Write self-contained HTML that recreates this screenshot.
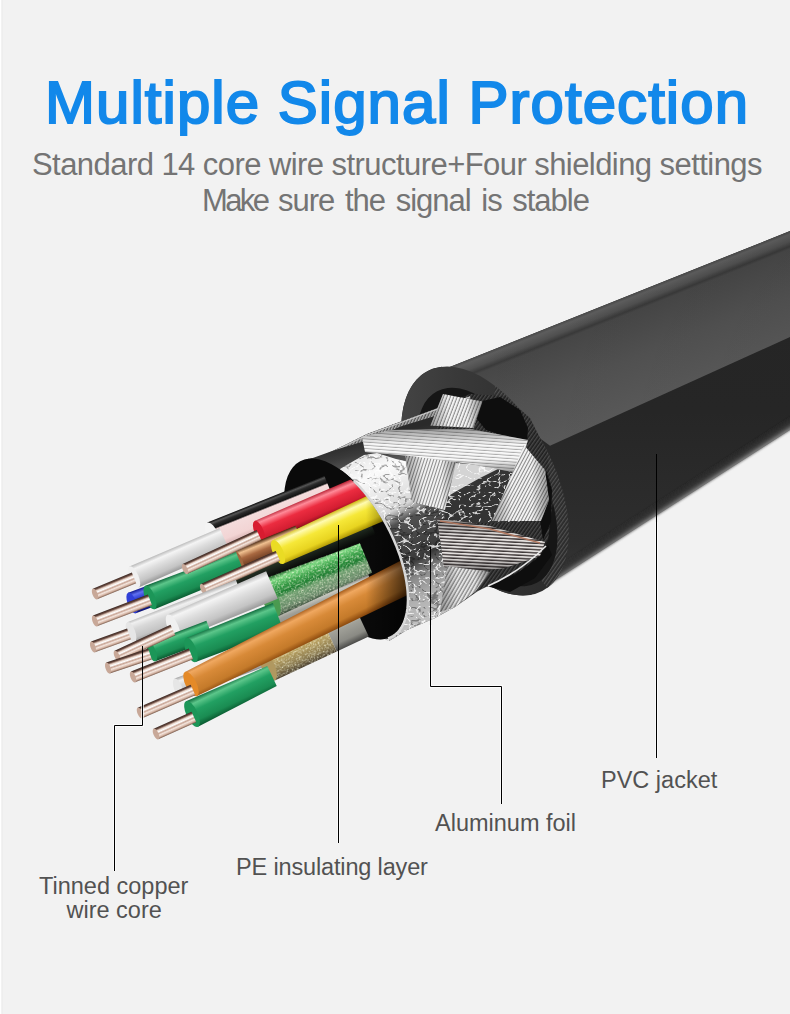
<!DOCTYPE html>
<html><head><meta charset="utf-8">
<style>
html,body{margin:0;padding:0;background:#f2f2f2;}
body{width:790px;height:1014px;position:relative;overflow:hidden;font-family:"Liberation Sans",sans-serif;}
.t{position:absolute;white-space:nowrap;line-height:1;}
#title{left:45px;top:73px;font-size:60px;color:#1288ea;-webkit-text-stroke:2px #1288ea;letter-spacing:1.04px;}
#sub1{left:32px;top:149px;font-size:31px;color:#747474;letter-spacing:-0.56px;}
#sub2{left:202px;top:185px;font-size:31px;color:#747474;letter-spacing:-1.0px;word-spacing:3px;}
.lab{font-size:23.5px;color:#525252;}
svg{position:absolute;left:0;top:0;}
</style></head><body>
<svg width="790" height="1014" viewBox="0 0 790 1014"><defs><filter id="crumple" x="0" y="0" width="100%" height="100%"><feTurbulence type="turbulence" baseFrequency="0.1 0.14" numOctaves="2" seed="5"/><feColorMatrix type="matrix" values="0 0 0 0 1  0 0 0 0 1  0 0 0 0 1  0 0 0 -10 1.5"/><feComposite in2="SourceGraphic" operator="in"/></filter><filter id="crumpled" x="0" y="0" width="100%" height="100%"><feTurbulence type="turbulence" baseFrequency="0.08 0.12" numOctaves="2" seed="11"/><feColorMatrix type="matrix" values="0 0 0 0 0  0 0 0 0 0  0 0 0 0 0  0 0 0 -10 1.4"/><feComposite in2="SourceGraphic" operator="in"/></filter><filter id="speck" x="0" y="0" width="100%" height="100%"><feTurbulence type="fractalNoise" baseFrequency="0.6" numOctaves="2" seed="7"/><feColorMatrix type="matrix" values="0 0 0 0 1  0 0 0 0 1  0 0 0 0 0.8  0 0 0 -3 1.6"/><feComposite in2="SourceGraphic" operator="in"/></filter><linearGradient id="g_red" x1="0" y1="0" x2="0" y2="1"><stop offset="0" stop-color="#b0182a"/><stop offset="0.18" stop-color="#ff8a98"/><stop offset="0.42" stop-color="#ec2c40"/><stop offset="0.78" stop-color="#d41e32"/><stop offset="1" stop-color="#8a0c1c"/></linearGradient><linearGradient id="g_yellow" x1="0" y1="0" x2="0" y2="1"><stop offset="0" stop-color="#c8b000"/><stop offset="0.18" stop-color="#fffbb0"/><stop offset="0.42" stop-color="#f6e838"/><stop offset="0.78" stop-color="#e8d420"/><stop offset="1" stop-color="#a89000"/></linearGradient><linearGradient id="g_green" x1="0" y1="0" x2="0" y2="1"><stop offset="0" stop-color="#0e6a3c"/><stop offset="0.18" stop-color="#5cc68a"/><stop offset="0.42" stop-color="#22a062"/><stop offset="0.78" stop-color="#1a8c52"/><stop offset="1" stop-color="#0a5a30"/></linearGradient><linearGradient id="g_white" x1="0" y1="0" x2="0" y2="1"><stop offset="0" stop-color="#c8c8c8"/><stop offset="0.18" stop-color="#ffffff"/><stop offset="0.42" stop-color="#f0f0f0"/><stop offset="0.78" stop-color="#dcdcdc"/><stop offset="1" stop-color="#a8a8a8"/></linearGradient><linearGradient id="g_white2" x1="0" y1="0" x2="0" y2="1"><stop offset="0" stop-color="#b8b8b8"/><stop offset="0.18" stop-color="#f4f4f4"/><stop offset="0.42" stop-color="#dedede"/><stop offset="0.78" stop-color="#c4c4c4"/><stop offset="1" stop-color="#989898"/></linearGradient><linearGradient id="g_gray" x1="0" y1="0" x2="0" y2="1"><stop offset="0" stop-color="#a8a8a8"/><stop offset="0.18" stop-color="#f0f0f0"/><stop offset="0.42" stop-color="#d8d8d8"/><stop offset="0.78" stop-color="#c4c4c4"/><stop offset="1" stop-color="#909090"/></linearGradient><linearGradient id="g_orange" x1="0" y1="0" x2="0" y2="1"><stop offset="0" stop-color="#9a5010"/><stop offset="0.18" stop-color="#f0a860"/><stop offset="0.42" stop-color="#d88a38"/><stop offset="0.78" stop-color="#c47a2a"/><stop offset="1" stop-color="#804008"/></linearGradient><linearGradient id="g_blue" x1="0" y1="0" x2="0" y2="1"><stop offset="0" stop-color="#101890"/><stop offset="0.18" stop-color="#6070f0"/><stop offset="0.42" stop-color="#2838d0"/><stop offset="0.78" stop-color="#2030b8"/><stop offset="1" stop-color="#0c1270"/></linearGradient><linearGradient id="g_cfoil" x1="0" y1="0" x2="0" y2="1"><stop offset="0" stop-color="#4a2810"/><stop offset="0.18" stop-color="#f0c090"/><stop offset="0.42" stop-color="#a86840"/><stop offset="0.78" stop-color="#6a3a20"/><stop offset="1" stop-color="#2a1808"/></linearGradient><linearGradient id="g_gold" x1="0" y1="0" x2="0" y2="1"><stop offset="0" stop-color="#6a5a30"/><stop offset="0.18" stop-color="#e8d898"/><stop offset="0.42" stop-color="#b8a060"/><stop offset="0.78" stop-color="#8a7a50"/><stop offset="1" stop-color="#4a4030"/></linearGradient><linearGradient id="g_gray2" x1="0" y1="0" x2="0" y2="1"><stop offset="0" stop-color="#5a5a58"/><stop offset="0.18" stop-color="#c8c8c0"/><stop offset="0.42" stop-color="#a0a098"/><stop offset="0.78" stop-color="#8a8a84"/><stop offset="1" stop-color="#4a4a48"/></linearGradient><linearGradient id="g_bpink" x1="0" y1="0" x2="0" y2="1"><stop offset="0" stop-color="#0a0a0a"/><stop offset="0.07" stop-color="#555555"/><stop offset="0.14" stop-color="#2a2a2a"/><stop offset="0.25" stop-color="#141414"/><stop offset="0.3" stop-color="#f4dcdc"/><stop offset="0.7" stop-color="#f2d4d4"/><stop offset="1" stop-color="#c8a0a0"/></linearGradient><linearGradient id="g_gtin" x1="0" y1="0" x2="0" y2="1"><stop offset="0" stop-color="#1e5a26"/><stop offset="0.12" stop-color="#7ad880"/><stop offset="0.3" stop-color="#3aa048"/><stop offset="0.5" stop-color="#1e7a30"/><stop offset="0.6" stop-color="#70a070"/><stop offset="0.85" stop-color="#6a8a6a"/><stop offset="1" stop-color="#3a4a3a"/></linearGradient><linearGradient id="g_dark" x1="0" y1="0" x2="0" y2="1"><stop offset="0" stop-color="#0a0a0a"/><stop offset="0.3" stop-color="#2a3a2a"/><stop offset="0.6" stop-color="#1a221a"/><stop offset="1" stop-color="#050505"/></linearGradient><linearGradient id="g_tip" x1="0" y1="0" x2="0" y2="1"><stop offset="0" stop-color="#3a2822"/><stop offset="0.14" stop-color="#6a4a40"/><stop offset="0.28" stop-color="#e8d4c8"/><stop offset="0.42" stop-color="#ffffff"/><stop offset="0.56" stop-color="#c8a494"/><stop offset="0.7" stop-color="#f4e6de"/><stop offset="0.86" stop-color="#d4b4a4"/><stop offset="1" stop-color="#7a5a4a"/></linearGradient><linearGradient id="jk_low" x1="0" y1="0" x2="0" y2="1"><stop offset="0" stop-color="#242424"/><stop offset="0.5" stop-color="#262626"/><stop offset="0.85" stop-color="#2e2e2e"/><stop offset="1" stop-color="#383838"/></linearGradient><linearGradient id="jk_up" x1="0" y1="0" x2="0" y2="1"><stop offset="0" stop-color="#4a4a4a"/><stop offset="1" stop-color="#575757"/></linearGradient><linearGradient id="jk_up2" gradientUnits="userSpaceOnUse" x1="600" y1="307" x2="644.5" y2="418.4"><stop offset="0" stop-color="#4a4a4a"/><stop offset="0.025" stop-color="#5e5e5e"/><stop offset="0.08" stop-color="#505050"/><stop offset="0.118" stop-color="#3a3a3a"/><stop offset="0.14" stop-color="#474747"/><stop offset="0.5" stop-color="#525252"/><stop offset="0.9" stop-color="#5a5a5a"/><stop offset="1" stop-color="#5a5a5a"/></linearGradient><linearGradient id="jk_botedge" gradientUnits="userSpaceOnUse" x1="693.5" y1="477.5" x2="700.5" y2="488.4"><stop offset="0" stop-color="#262626" stop-opacity="0"/><stop offset="0.6" stop-color="#3a3a3a" stop-opacity="1"/><stop offset="0.85" stop-color="#6a6a6a"/><stop offset="1" stop-color="#b0b0b0"/></linearGradient><filter id="bl1" x="-5%" y="-20%" width="110%" height="140%"><feGaussianBlur stdDeviation="0.8"/></filter><linearGradient id="jk_dark_r" gradientUnits="userSpaceOnUse" x1="450" y1="0" x2="790" y2="0"><stop offset="0" stop-color="#000" stop-opacity="0"/><stop offset="1" stop-color="#000" stop-opacity="0.05"/></linearGradient><linearGradient id="jk_face" x1="0" y1="0" x2="1" y2="1"><stop offset="0" stop-color="#4a4a4a"/><stop offset="0.4" stop-color="#383838"/><stop offset="1" stop-color="#262626"/></linearGradient><pattern id="st_ring" width="3" height="3" patternUnits="userSpaceOnUse" patternTransform="rotate(-55)"><rect width="3" height="3" fill="#2a2a2a"/><rect width="3" height="1.2" fill="#5a5a5a"/></pattern><pattern id="st_bb" width="3" height="3" patternUnits="userSpaceOnUse" patternTransform="rotate(-55)"><rect width="3" height="3" fill="#1e1e1e"/><rect width="3" height="1.4" fill="#484848"/></pattern><pattern id="st_edge" width="2.6" height="2.6" patternUnits="userSpaceOnUse" patternTransform="rotate(-65)"><rect width="2.6" height="2.6" fill="#505050"/><rect width="2.6" height="1.4" fill="#b0b0b0"/></pattern><pattern id="st_v" width="3.2" height="3.2" patternUnits="userSpaceOnUse" patternTransform="rotate(-69)"><rect width="3.2" height="3.2" fill="#8a8a8a"/><rect width="3.2" height="2.1" fill="#f4f4f4"/></pattern><pattern id="st_h" width="3.2" height="3.2" patternUnits="userSpaceOnUse" patternTransform="rotate(4)"><rect width="3.2" height="3.2" fill="#acacac"/><rect width="3.2" height="2.2" fill="#f8f8f8"/></pattern><pattern id="st_d" width="3.0" height="3.0" patternUnits="userSpaceOnUse" patternTransform="rotate(-72)"><rect width="3.0" height="3.0" fill="#8c8c8c"/><rect width="3.0" height="2.0" fill="#f2f2f2"/></pattern><pattern id="st_r" width="3.0" height="3.0" patternUnits="userSpaceOnUse" patternTransform="rotate(-62)"><rect width="3.0" height="3.0" fill="#888888"/><rect width="3.0" height="2.0" fill="#f2f2f2"/></pattern><pattern id="st_b" width="3.2" height="3.2" patternUnits="userSpaceOnUse" patternTransform="rotate(3)"><rect width="3.2" height="3.2" fill="#3e3838"/><rect width="3.2" height="1.8" fill="#e4e0de"/></pattern><pattern id="st_bl" width="3.2" height="3.2" patternUnits="userSpaceOnUse" patternTransform="rotate(-60)"><rect width="3.2" height="3.2" fill="#8a8a8a"/><rect width="3.2" height="1.9" fill="#e4e4e4"/></pattern><linearGradient id="foilg" x1="330" y1="440" x2="422" y2="620" gradientUnits="userSpaceOnUse"><stop offset="0" stop-color="#1a1a1a"/><stop offset="0.08" stop-color="#222222"/><stop offset="0.14" stop-color="#e8e8e8"/><stop offset="0.25" stop-color="#fafafa"/><stop offset="0.45" stop-color="#d8d8d8"/><stop offset="0.52" stop-color="#505050"/><stop offset="0.72" stop-color="#3a3a3a"/><stop offset="0.8" stop-color="#8a8a8a"/><stop offset="0.9" stop-color="#b0b0b0"/><stop offset="1" stop-color="#c0c0c0"/></linearGradient><linearGradient id="fdark" gradientUnits="userSpaceOnUse" x1="360" y1="440" x2="366" y2="466"><stop offset="0" stop-color="#2a2a2a"/><stop offset="0.5" stop-color="#3a3a3a"/><stop offset="1" stop-color="#555"/></linearGradient><linearGradient id="shV" x1="0" y1="0" x2="0" y2="1"><stop offset="0" stop-color="#000" stop-opacity="0.35"/><stop offset="0.35" stop-color="#000" stop-opacity="0"/><stop offset="0.7" stop-color="#000" stop-opacity="0"/><stop offset="1" stop-color="#000" stop-opacity="0.4"/></linearGradient><linearGradient id="shH" x1="0" y1="0" x2="1" y2="0"><stop offset="0" stop-color="#000" stop-opacity="0.35"/><stop offset="0.35" stop-color="#000" stop-opacity="0"/><stop offset="0.7" stop-color="#000" stop-opacity="0"/><stop offset="1" stop-color="#000" stop-opacity="0.4"/></linearGradient><clipPath id="wclip"><polygon points="22.2,-70.5 669.8,1168.5 -200.0,1168.5 -200.0,-70.5"/><ellipse cx="346" cy="549" rx="46" ry="98" transform="rotate(-27.6 346 549)"/></clipPath><linearGradient id="tubeshade" x1="0" y1="0" x2="1" y2="0"><stop offset="0" stop-color="#000"/><stop offset="0.55" stop-color="#000"/><stop offset="1" stop-color="#000"/></linearGradient><linearGradient id="tubefade" x1="300" y1="0" x2="410" y2="0" gradientUnits="userSpaceOnUse"><stop offset="0" stop-color="#000" stop-opacity="0"/><stop offset="0.6" stop-color="#000" stop-opacity="0"/><stop offset="1" stop-color="#000" stop-opacity="0.7"/></linearGradient><clipPath id="fclip"><ellipse cx="346" cy="549" rx="47" ry="99" transform="rotate(-27.6 346 549)"/></clipPath></defs><polygon points="800.0,227.0 446.0,368.6 441.7,366.8 437.9,367.4 434.3,368.3 430.7,369.6 427.4,371.2 424.2,373.1 421.2,375.3 418.3,377.9 415.7,380.7 413.3,383.8 411.0,387.2 409.0,390.9 407.2,394.8 405.7,399.0 404.3,403.4 403.2,408.0 402.4,412.9 401.7,418.0 401.3,423.2 401.2,428.6 401.3,434.1 401.6,439.8 402.2,445.7 403.0,451.6 404.1,457.6 405.4,463.6 406.9,469.7 408.7,475.9 410.6,482.1 412.8,488.2 415.2,494.4 417.8,500.5 420.6,506.5 423.6,512.5 426.8,518.3 430.1,524.1 433.6,529.8 437.2,535.3 441.0,540.6 444.9,545.8 448.9,550.8 453.0,555.6 457.2,560.1 461.5,564.5 465.9,568.6 470.3,572.4 474.8,576.0 479.3,579.3 483.8,582.3 488.3,585.0 492.8,587.5 497.3,589.6 501.7,591.4 506.1,592.9 510.4,594.0 514.7,594.8 518.9,595.3 522.9,595.5 526.9,595.3 530.8,594.9 560.0,577.2 800.0,423.6" fill="url(#jk_low)"/><polygon points="800.0,227.0 446.0,368.6 550.0,445.7 800.0,332.5" fill="url(#jk_up2)"/><polygon points="545.0,572.8 800.0,409.6 800.0,424.6 545.0,587.8" fill="url(#jk_botedge)" filter="url(#bl1)"/><polygon points="800.0,227.0 446.0,368.6 550.0,445.7 800.0,332.5" fill="url(#jk_dark_r)"/><ellipse cx="485" cy="481" rx="69" ry="124" transform="rotate(-27.5 485 481)" fill="url(#jk_face)"/><polygon points="495.1,385.9 501.3,391.0 507.4,396.5 513.4,402.6 519.3,409.1 524.9,416.0 530.4,423.2 535.5,430.8 540.4,438.7 545.0,446.8 549.2,455.1 553.1,463.6 556.6,472.2 559.6,480.8 562.3,489.4 564.5,497.9 566.3,506.4 567.6,514.7 568.4,522.8 568.8,530.7 568.7,538.3 568.1,545.6 567.1,552.6 565.5,559.1 563.6,565.1 561.2,570.7 558.3,575.8 555.1,580.4 551.4,584.4 547.4,587.8 541.0,580.2 544.2,577.4 547.2,574.0 549.7,570.2 552.0,565.9 553.8,561.1 555.3,556.0 556.4,550.4 557.1,544.5 557.4,538.3 557.3,531.7 556.8,524.9 555.9,517.9 554.6,510.8 552.9,503.5 550.9,496.1 548.5,488.6 545.8,481.1 542.7,473.7 539.3,466.4 535.6,459.1 531.6,452.1 527.4,445.2 523.0,438.5 518.3,432.2 513.5,426.1 508.5,420.4 503.4,415.0 498.3,410.1 493.0,405.6" fill="url(#st_ring)" opacity="0.8"/><ellipse cx="487" cy="487" rx="56" ry="108" transform="rotate(-27.5 487 487)" fill="#161616"/><polygon points="320.0,457.0 345.0,445.0 367.0,434.0 405.0,420.0 435.0,409.0 470.0,394.0 505.0,396.0 530.0,418.0 547.0,452.0 553.0,500.0 548.0,540.0 532.0,566.0 500.0,580.0 478.0,591.0 455.0,607.0 435.0,618.0 407.0,630.0 389.0,641.0 360.0,600.0" fill="url(#st_bb)"/><polygon points="478.0,402.0 500.0,397.0 520.0,410.0 528.0,428.0 527.0,442.0 505.0,436.0 486.0,430.0 476.0,418.0" fill="#0e0e0e"/><polygon points="546.0,470.0 552.0,490.0 551.0,522.0 543.0,540.0 540.0,520.0 546.0,500.0" fill="#0e0e0e"/><polygon points="486.0,586.0 515.0,575.0 540.0,556.0 548.0,545.0 552.0,555.0 535.0,578.0 510.0,592.0" fill="#0e0e0e"/><polygon points="320.0,457.0 345.0,445.0 367.0,434.0 405.0,420.0 435.0,409.0 470.0,396.0 472.0,403.0 437.0,416.0 405.0,427.0 368.0,441.0 347.0,452.0 324.0,463.0" fill="url(#st_edge)"/><polyline points="321,457 345,446 367,435 405,421 435,410 470,397" fill="none" stroke="#c8c8c8" stroke-width="1.2"/><polygon points="440.0,462.0 514.0,466.0 520.0,522.0 440.0,524.0" fill="#343434"/><polygon points="440.0,462.0 470.0,464.0 500.0,468.0 480.0,478.0 455.0,492.0 442.0,500.0" fill="#d4d4d4"/><polygon points="440.0,462.0 514.0,466.0 520.0,522.0 440.0,524.0" fill="#000" filter="url(#crumple)" opacity="0.8"/><polygon points="300.0,462.0 320.0,457.0 344.0,452.0 369.0,444.0 404.0,430.0 432.0,420.0 440.0,460.0 445.0,520.0 450.0,565.0 455.0,607.0 435.0,618.0 407.0,630.0 389.0,641.0 384.0,639.0 383.9,639.2 387.8,638.4 391.3,637.0 394.6,635.1 397.5,632.6 400.1,629.5 402.4,626.0 404.2,621.9 405.8,617.4 406.9,612.4 407.6,607.0 407.9,601.2 407.9,595.1 407.4,588.7 406.5,582.1 405.3,575.2 403.6,568.1 401.6,561.0 399.2,553.7 396.5,546.4 393.4,539.2 390.1,532.0 386.4,524.9 382.5,517.9 378.3,511.2 374.0,504.7 369.5,498.5 364.8,492.7 359.9,487.2 355.0,482.1 350.1,477.4 345.1,473.2 340.1,469.5 335.2,466.3 330.3,463.6 325.5,461.5 320.9,460.0 316.4,459.0 312.1,458.6 308.1,458.8" fill="url(#foilg)"/><polygon points="300.0,462.0 320.0,457.0 344.0,452.0 369.0,444.0 404.0,430.0 432.0,420.0 440.0,460.0 445.0,520.0 450.0,565.0 455.0,607.0 435.0,618.0 407.0,630.0 389.0,641.0 384.0,639.0 383.9,639.2 387.8,638.4 391.3,637.0 394.6,635.1 397.5,632.6 400.1,629.5 402.4,626.0 404.2,621.9 405.8,617.4 406.9,612.4 407.6,607.0 407.9,601.2 407.9,595.1 407.4,588.7 406.5,582.1 405.3,575.2 403.6,568.1 401.6,561.0 399.2,553.7 396.5,546.4 393.4,539.2 390.1,532.0 386.4,524.9 382.5,517.9 378.3,511.2 374.0,504.7 369.5,498.5 364.8,492.7 359.9,487.2 355.0,482.1 350.1,477.4 345.1,473.2 340.1,469.5 335.2,466.3 330.3,463.6 325.5,461.5 320.9,460.0 316.4,459.0 312.1,458.6 308.1,458.8" fill="#000" filter="url(#crumpled)" opacity="0.35"/><polygon points="300.0,462.0 320.0,457.0 344.0,452.0 369.0,444.0 404.0,430.0 432.0,420.0 440.0,460.0 445.0,520.0 450.0,565.0 455.0,607.0 435.0,618.0 407.0,630.0 389.0,641.0 384.0,639.0 383.9,639.2 387.8,638.4 391.3,637.0 394.6,635.1 397.5,632.6 400.1,629.5 402.4,626.0 404.2,621.9 405.8,617.4 406.9,612.4 407.6,607.0 407.9,601.2 407.9,595.1 407.4,588.7 406.5,582.1 405.3,575.2 403.6,568.1 401.6,561.0 399.2,553.7 396.5,546.4 393.4,539.2 390.1,532.0 386.4,524.9 382.5,517.9 378.3,511.2 374.0,504.7 369.5,498.5 364.8,492.7 359.9,487.2 355.0,482.1 350.1,477.4 345.1,473.2 340.1,469.5 335.2,466.3 330.3,463.6 325.5,461.5 320.9,460.0 316.4,459.0 312.1,458.6 308.1,458.8" fill="#000" filter="url(#crumple)" opacity="0.8"/><polygon points="296.0,466.0 310.0,459.0 335.0,450.0 365.0,441.0 402.0,426.0 435.0,416.0 440.0,440.0 410.0,462.0 396.0,459.0 377.0,453.0 364.0,455.0 345.0,466.0 330.0,475.0" fill="url(#fdark)"/><polygon points="430.5,425.6 443.0,394.0 482.4,401.5 473.5,428.0" fill="url(#st_v)"/><polygon points="430.5,425.6 443.0,394.0 482.4,401.5 473.5,428.0" fill="url(#shH)"/><polygon points="405.0,456.0 457.0,458.0 445.0,510.0 412.0,502.0" fill="url(#st_d)"/><polygon points="405.0,456.0 457.0,458.0 445.0,510.0 412.0,502.0" fill="url(#shH)"/><polygon points="362.0,437.0 390.0,430.0 470.0,429.0 528.0,440.0 518.0,473.0 470.0,464.0 410.0,456.0 365.0,452.0" fill="url(#st_h)"/><polygon points="362.0,437.0 390.0,430.0 470.0,429.0 528.0,440.0 518.0,473.0 470.0,464.0 410.0,456.0 365.0,452.0" fill="url(#shV)"/><polygon points="524.0,445.0 545.0,470.0 549.0,500.0 541.0,521.0 492.0,521.0 505.0,490.0" fill="url(#st_r)"/><polygon points="524.0,445.0 545.0,470.0 549.0,500.0 541.0,521.0 492.0,521.0 505.0,490.0" fill="url(#shH)"/><polygon points="437.0,518.0 490.0,526.0 545.0,542.0 540.0,556.0 505.0,568.0 470.0,572.0 444.0,567.0" fill="url(#st_b)"/><polygon points="437.0,518.0 490.0,526.0 545.0,542.0 540.0,556.0 505.0,568.0 470.0,572.0 444.0,567.0" fill="url(#shV)"/><polyline points="440,521 490,529 540,543" fill="none" stroke="#b07860" stroke-width="1.6"/><path d="M488,586 Q520,572 546,546" fill="none" stroke="#e8e8e8" stroke-width="1.6"/><polygon points="447.0,566.0 490.0,572.0 475.0,592.0 455.0,607.0 440.0,612.0" fill="url(#st_bl)"/><polygon points="447.0,566.0 490.0,572.0 475.0,592.0 455.0,607.0 440.0,612.0" fill="url(#shH)"/><ellipse cx="346" cy="549" rx="47" ry="99" transform="rotate(-27.6 346 549)" fill="#0a0a0a"/><g clip-path="url(#wclip)"><g transform="translate(213.0,537.0) rotate(-21.89)"><polygon points="0,-15.5 126.1,-15.5 126.1,15.5 0,15.5" fill="url(#g_bpink)"/><ellipse cx="0" cy="0" rx="6.2" ry="15.5" fill="#f4f4f4"/></g><g transform="translate(134.0,577.0) rotate(-23.43)"><polygon points="0,-11.5 98.1,-11.0 98.1,11.0 0,11.5" fill="url(#g_white2)"/><ellipse cx="0" cy="0" rx="4.6" ry="11.5" fill="#f0f0f0"/></g><g transform="translate(95.0,594.0) rotate(-22.31)"><rect x="0" y="-5.8" width="42.2" height="11.5" fill="url(#g_tip)"/><ellipse cx="0" cy="0" rx="2.5" ry="5.8" fill="#c8a898"/></g><g transform="translate(259.0,531.5) rotate(-22.65)"><polygon points="0,-11.5 131.1,-13.0 131.1,13.0 0,11.5" fill="url(#g_red)"/><ellipse cx="0" cy="0" rx="4.6" ry="11.5" fill="#d81c30"/></g><g transform="translate(235.0,582.0) rotate(-22.23)"><polygon points="0,-11.0 148.0,-9.0 148.0,9.0 0,11.0" fill="url(#g_dark)"/></g><g transform="translate(238.0,562.0) rotate(-21.96)"><polygon points="0,-12.0 66.9,-12.0 66.9,12.0 0,12.0" fill="url(#g_cfoil)"/><ellipse cx="0" cy="0" rx="4.8" ry="12.0" fill="#a06840"/></g><g transform="translate(132.0,603.0) rotate(-20.41)"><polygon points="0,-11.0 45.9,-11.0 45.9,11.0 0,11.0" fill="url(#g_blue)"/><ellipse cx="0" cy="0" rx="4.4" ry="11.0" fill="#3040d8"/></g><g transform="translate(150.0,597.5) rotate(-21.53)"><polygon points="0,-12.5 96.7,-11.0 96.7,11.0 0,12.5" fill="url(#g_green)"/><ellipse cx="0" cy="0" rx="5.0" ry="12.5" fill="#1c9658"/></g><g transform="translate(95.0,621.0) rotate(-20.90)"><rect x="0" y="-5.8" width="58.9" height="11.5" fill="url(#g_tip)"/><ellipse cx="0" cy="0" rx="2.5" ry="5.8" fill="#c8a898"/></g><g transform="translate(185.0,569.0) rotate(-24.68)"><rect x="0" y="-5.5" width="81.4" height="11.0" fill="url(#g_tip)"/><ellipse cx="0" cy="0" rx="2.4" ry="5.5" fill="#c8a898"/></g><g transform="translate(278.0,552.0) rotate(-24.16)"><polygon points="0,-13.0 117.3,-15.0 117.3,15.0 0,13.0" fill="url(#g_yellow)"/><ellipse cx="0" cy="0" rx="5.2" ry="13.0" fill="#eadc24"/></g><g transform="translate(203.0,589.0) rotate(-23.75)"><rect x="0" y="-5.5" width="81.9" height="11.0" fill="url(#g_tip)"/><ellipse cx="0" cy="0" rx="2.4" ry="5.5" fill="#c8a898"/></g><g transform="translate(131.0,632.0) rotate(-20.61)"><polygon points="0,-10.5 116.5,-12.0 116.5,12.0 0,10.5" fill="url(#g_gray)"/><ellipse cx="0" cy="0" rx="4.2" ry="10.5" fill="#e6e6e6"/></g><g transform="translate(93.0,647.0) rotate(-19.86)"><rect x="0" y="-5.8" width="38.3" height="11.5" fill="url(#g_tip)"/><ellipse cx="0" cy="0" rx="2.5" ry="5.8" fill="#c8a898"/></g><g transform="translate(250.0,632.0) rotate(-21.48)"><polygon points="0,-11.0 131.1,-11.0 131.1,11.0 0,11.0" fill="url(#g_gray2)"/></g><g transform="translate(270.0,598.0) rotate(-22.62)"><polygon points="0,-20.0 104.0,-16.0 104.0,16.0 0,20.0" fill="url(#g_gtin)"/><polygon points="0,-20.0 104.0,-16.0 104.0,16.0 0,20.0" fill="#000" filter="url(#speck)" opacity="0.7"/><ellipse cx="0" cy="0" rx="8.0" ry="20.0" fill="#4a9a50"/></g><g transform="translate(173.0,627.0) rotate(-22.99)"><polygon points="0,-13.5 107.5,-15.0 107.5,15.0 0,13.5" fill="url(#g_white2)"/><ellipse cx="0" cy="0" rx="5.4" ry="13.5" fill="#f0f0f0"/></g><g transform="translate(152.0,652.0) rotate(-20.77)"><polygon points="0,-10.0 62.0,-10.0 62.0,10.0 0,10.0" fill="url(#g_green)"/><ellipse cx="0" cy="0" rx="4.0" ry="10.0" fill="#1c9658"/></g><g transform="translate(117.0,656.0) rotate(-24.90)"><rect x="0" y="-5.8" width="61.7" height="11.5" fill="url(#g_tip)"/><ellipse cx="0" cy="0" rx="2.5" ry="5.8" fill="#c8a898"/></g><g transform="translate(108.0,668.0) rotate(-18.43)"><rect x="0" y="-5.8" width="44.3" height="11.5" fill="url(#g_tip)"/><ellipse cx="0" cy="0" rx="2.5" ry="5.8" fill="#c8a898"/></g><g transform="translate(191.0,650.0) rotate(-21.35)"><polygon points="0,-13.0 93.4,-14.0 93.4,14.0 0,13.0" fill="url(#g_green)"/><ellipse cx="0" cy="0" rx="5.2" ry="13.0" fill="#1c9658"/></g><g transform="translate(133.0,677.0) rotate(-21.63)"><rect x="0" y="-5.8" width="62.4" height="11.5" fill="url(#g_tip)"/><ellipse cx="0" cy="0" rx="2.5" ry="5.8" fill="#c8a898"/></g><g transform="translate(178.0,688.0) rotate(-20.14)"><polygon points="0,-10.0 95.9,-10.0 95.9,10.0 0,10.0" fill="url(#g_gray)"/><ellipse cx="0" cy="0" rx="4.0" ry="10.0" fill="#e6e6e6"/></g><g transform="translate(330.0,637.0) rotate(-25.11)"><polygon points="0,-16.0 35.3,-16.0 35.3,16.0 0,16.0" fill="url(#g_gray2)"/></g><g transform="translate(268.0,666.0) rotate(-25.07)"><polygon points="0,-16.0 68.4,-16.0 68.4,16.0 0,16.0" fill="url(#g_gold)"/><polygon points="0,-16.0 68.4,-16.0 68.4,16.0 0,16.0" fill="#000" filter="url(#speck)" opacity="0.7"/><ellipse cx="0" cy="0" rx="6.4" ry="16.0" fill="#b09860"/></g><g transform="translate(191.0,684.0) rotate(-26.46)"><polygon points="0,-13.5 244.6,-17.0 244.6,17.0 0,13.5" fill="url(#g_orange)"/><ellipse cx="0" cy="0" rx="5.4" ry="13.5" fill="#e48a28"/></g><g transform="translate(140.0,713.0) rotate(-23.46)"><rect x="0" y="-5.8" width="57.8" height="11.5" fill="url(#g_tip)"/><ellipse cx="0" cy="0" rx="2.5" ry="5.8" fill="#c8a898"/></g><g transform="translate(192.0,714.0) rotate(-25.41)"><polygon points="0,-14.0 88.6,-11.0 88.6,11.0 0,14.0" fill="url(#g_green)"/><ellipse cx="0" cy="0" rx="5.6" ry="14.0" fill="#1c9658"/></g><g transform="translate(156.0,734.0) rotate(-24.10)"><rect x="0" y="-5.8" width="41.6" height="11.5" fill="url(#g_tip)"/><ellipse cx="0" cy="0" rx="2.5" ry="5.8" fill="#c8a898"/></g></g><rect x="280" y="440" width="140" height="210" fill="url(#tubefade)" clip-path="url(#fclip)"/><polyline points="353.8,480.8 357.4,484.4 360.9,488.2 364.4,492.2 367.8,496.4 371.1,500.7 374.4,505.3 377.5,509.9 380.6,514.7 383.5,519.7 386.3,524.7 389.0,529.8 391.5,535.0 393.9,540.2 396.1,545.4 398.1,550.7 400.0,555.9 401.6,561.2 403.1,566.3 404.4,571.5 405.5,576.5 406.4,581.5 407.1,586.3 407.6,591.1 407.9,595.6 408.0,600.1 407.8,604.3 407.5,608.4 406.9,612.2 406.1,615.9 405.2,619.3 404.0,622.5 402.6,625.4 401.1,628.1 399.3,630.5 397.4,632.7 395.3,634.5 393.1,636.1 390.6,637.3 388.1,638.3" fill="none" stroke="#d8d8d8" stroke-width="2.5"/><rect x="0" y="0" width="1" height="1014" fill="#ffffff"/><rect x="2" y="0" width="1" height="1014" fill="#eeeeee"/><polyline points="142.5,702.0 142.5,725.5 114.5,725.5 114.5,871.0" fill="none" stroke="#ffffff" stroke-opacity="0.7" stroke-width="3"/><polyline points="338.5,660.0 338.5,843.0" fill="none" stroke="#ffffff" stroke-opacity="0.7" stroke-width="3"/><polyline points="430.5,625.0 430.5,686.5 501.5,686.5 501.5,804.0" fill="none" stroke="#ffffff" stroke-opacity="0.7" stroke-width="3"/><polyline points="656.5,522.0 656.5,758.0" fill="none" stroke="#ffffff" stroke-opacity="0.7" stroke-width="3"/><polyline points="142.5,646.0 142.5,725.5 114.5,725.5 114.5,871.0" fill="none" stroke="#000" stroke-width="1"/><polyline points="338.5,525.0 338.5,843.0" fill="none" stroke="#000" stroke-width="1"/><polyline points="430.5,547.0 430.5,686.5 501.5,686.5 501.5,804.0" fill="none" stroke="#000" stroke-width="1"/><polyline points="656.5,454.0 656.5,758.0" fill="none" stroke="#000" stroke-width="1"/></svg>
<div class="t" id="title">Multiple Signal Protection</div>
<div class="t" id="sub1">Standard 14 core wire structure+Four shielding settings</div>
<div class="t" id="sub2"><span style="letter-spacing:-2.6px">Make</span> sure the signal is stable</div>
<div class="t lab" id="l1" style="left:39px;top:875px">Tinned copper</div>
<div class="t lab" id="l2" style="left:66.5px;top:899px">wire core</div>
<div class="t lab" id="l3" style="left:236px;top:855.5px;letter-spacing:-0.15px">PE insulating layer</div>
<div class="t lab" id="l4" style="left:435px;top:812px">Aluminum foil</div>
<div class="t lab" id="l5" style="left:601px;top:768.6px">PVC jacket</div>
</body></html>
